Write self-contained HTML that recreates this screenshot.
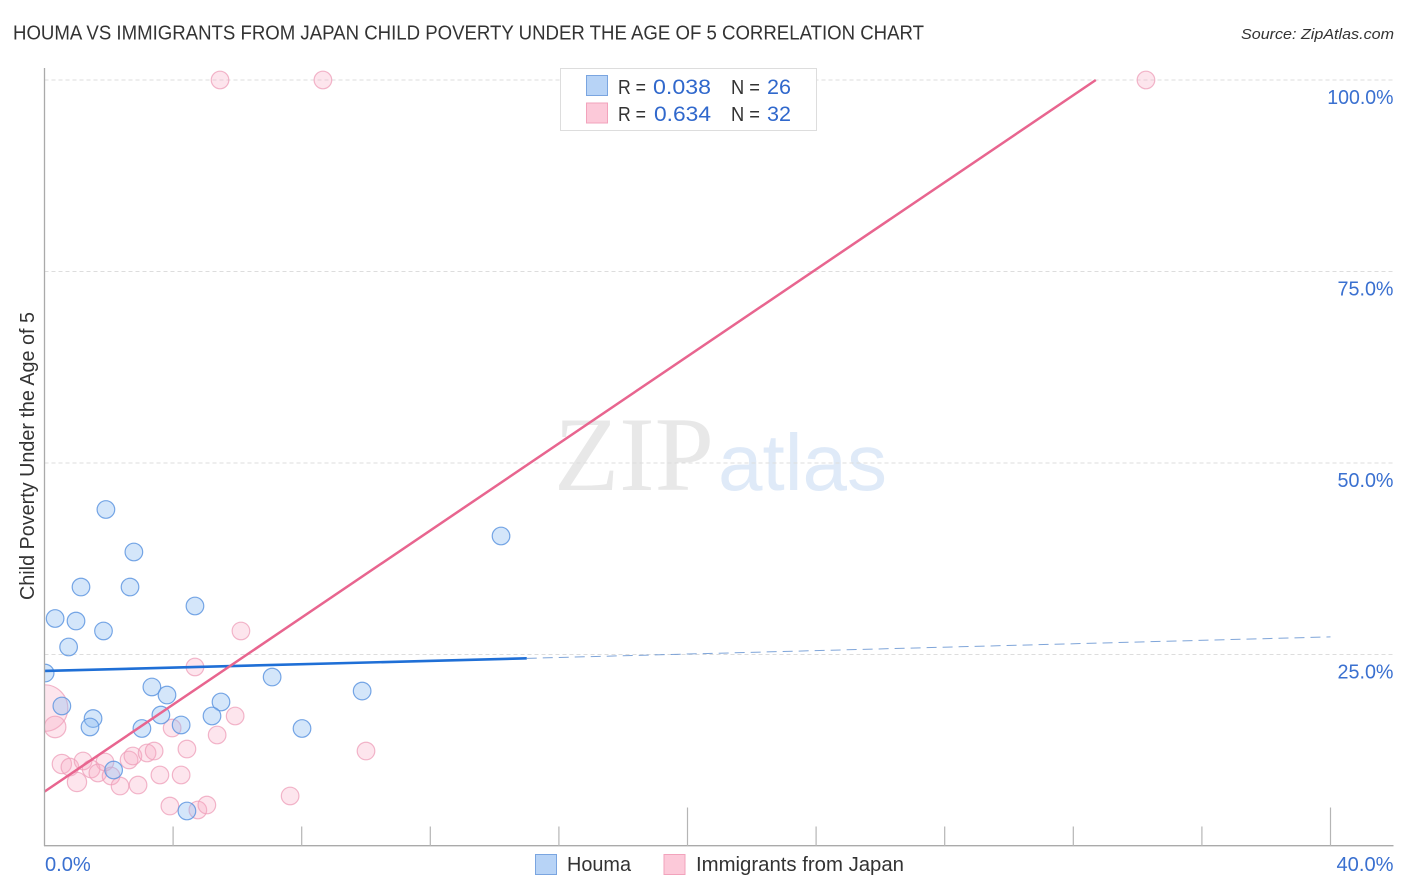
<!DOCTYPE html>
<html lang="en">
<head>
<meta charset="utf-8">
<title>Houma vs Immigrants from Japan Child Poverty Chart</title>
<style>
html,body{margin:0;padding:0;background:#fff;}
body{width:1406px;height:892px;overflow:hidden;}
svg{display:block;font-family:"Liberation Sans",sans-serif;}
</style>
</head>
<body>
<svg id="chart" width="1406" height="892" viewBox="0 0 1406 892" xmlns="http://www.w3.org/2000/svg">
  <rect x="0" y="0" width="1406" height="892" fill="#ffffff"/>
  <text x="13" y="39.5" font-size="20" fill="#333333" textLength="911" lengthAdjust="spacingAndGlyphs">HOUMA VS IMMIGRANTS FROM JAPAN CHILD POVERTY UNDER THE AGE OF 5 CORRELATION CHART</text>
  <text x="1241" y="39" font-size="15" font-style="italic" fill="#333333" textLength="153" lengthAdjust="spacingAndGlyphs">Source: ZipAtlas.com</text>
  <g>
    <text x="554" y="490" font-family="'Liberation Serif',serif" font-size="106" fill="#e8e8e8" textLength="160" lengthAdjust="spacingAndGlyphs">ZIP</text>
    <text x="718" y="490" font-size="80" fill="#dfeaf8" textLength="169" lengthAdjust="spacingAndGlyphs">atlas</text>
  </g>
  <g id="grid"></g>
  <g id="pink-points"></g>
  <g id="blue-points"></g>
  <g id="trends"></g>
  <g id="axes"></g>
  <text transform="translate(34,456) rotate(-90)" text-anchor="middle" font-size="20" fill="#333333" textLength="288" lengthAdjust="spacingAndGlyphs">Child Poverty Under the Age of 5</text>

  <g>
    <rect x="560.5" y="68.5" width="256" height="62" fill="#ffffff" stroke="#dddddd" stroke-width="1"/>
    <rect x="586.5" y="75.5" width="21" height="20" fill="#b7d3f6" stroke="#7aa5e0" stroke-width="1"/>
    <text x="618" y="94" font-size="20" fill="#333333" textLength="28" lengthAdjust="spacingAndGlyphs">R =</text>
    <text x="653" y="94" font-size="21" fill="#3068cc" textLength="58" lengthAdjust="spacingAndGlyphs">0.038</text>
    <text x="731" y="94" font-size="20" fill="#333333" textLength="29" lengthAdjust="spacingAndGlyphs">N =</text>
    <text x="767" y="94" font-size="21" fill="#3068cc" textLength="24" lengthAdjust="spacingAndGlyphs">26</text>
    <rect x="586.5" y="103" width="21" height="20" fill="#fcc9d9" stroke="#f2a3bc" stroke-width="1"/>
    <text x="618" y="121" font-size="20" fill="#333333" textLength="28" lengthAdjust="spacingAndGlyphs">R =</text>
    <text x="654" y="121" font-size="21" fill="#3068cc" textLength="57" lengthAdjust="spacingAndGlyphs">0.634</text>
    <text x="731" y="121" font-size="20" fill="#333333" textLength="29" lengthAdjust="spacingAndGlyphs">N =</text>
    <text x="767" y="121" font-size="21" fill="#3068cc" textLength="24" lengthAdjust="spacingAndGlyphs">32</text>
  </g>

  <g>
    <rect x="535.5" y="854.5" width="21" height="20" fill="#b7d3f6" stroke="#7aa5e0" stroke-width="1"/>
    <text x="567" y="871" font-size="20" fill="#333333" textLength="64" lengthAdjust="spacingAndGlyphs">Houma</text>
    <rect x="664" y="854.5" width="21" height="20" fill="#fcc9d9" stroke="#f2a3bc" stroke-width="1"/>
    <text x="696" y="871" font-size="20" fill="#333333" textLength="208" lengthAdjust="spacingAndGlyphs">Immigrants from Japan</text>
  </g>
</svg>
<script>
// Chart data (percent values)
const yTickValues = [100, 75, 50, 25];
const yTickLabels = ["100.0%", "75.0%", "50.0%", "25.0%"];
const xTickValues = [4, 8, 12, 16, 20, 24, 28, 32, 36, 40];
const xMajorTicks = [20, 40];
const xEndValues = [0, 40];
const xEndLabels = ["0.0%", "40.0%"];

const houmaX = [1.91, 2.78, 1.135, 2.66, 4.68, 0.33, 0.98, 1.835, 0.75, 0.02, 7.08, 3.34, 3.81, 9.88, 5.49, 0.54, 1.51, 1.415, 3.62, 5.21, 4.25, 3.03, 8.01, 2.15, 4.43, 14.20];
const houmaY = [43.93, 38.38, 33.81, 33.81, 31.33, 29.70, 29.37, 28.07, 25.98, 22.58, 22.06, 20.76, 19.71, 20.23, 18.80, 18.28, 16.64, 15.54, 17.10, 16.97, 15.80, 15.34, 15.34, 9.92, 4.57, 40.47];

const japanX = [5.46, 8.66, 34.26, 6.11, 4.68, 5.93, 3.97, 5.37, 4.43, 10.0, 0.0, 0.33, 0.54, 0.79, 1.2, 1.01, 1.88, 1.45, 1.66, 2.07, 2.35, 2.91, 2.63, 2.75, 3.19, 3.41, 3.59, 4.25, 3.90, 4.77, 5.05, 7.64];
const japanY = [100, 100, 100, 28.07, 23.37, 16.97, 15.40, 14.49, 12.66, 12.40, 18.0, 15.54, 10.70, 10.31, 11.10, 8.36, 10.97, 10.05, 9.53, 9.14, 7.83, 7.96, 11.23, 11.75, 12.14, 12.40, 9.27, 9.27, 5.22, 4.70, 5.35, 6.53];
const japanWeight = [1, 1, 1, 1, 1, 1, 1, 1, 1, 1, 7, 1.5, 1.2, 1, 1, 1.2, 1, 1, 1, 1, 1, 1, 1, 1, 1, 1, 1, 1, 1, 1, 1, 1];

const houmaTrendX = [0, 15, 40];
const houmaTrendY = [22.85, 24.5, 27.3];
const japanTrendX = [0, 32.7];
const japanTrendY = [7.1, 100];

// Axis functions
function xScale(v) { return 44.5 + v * 32.15; }
function yScale(v) { return 846 - v * 7.66; }
function rScale(w) { return 8.8 * Math.sqrt(w); }
function labelWidth(s) { return s.length * 11.2 - (s.length === 6 ? 1 : 0); }

const NS = "http://www.w3.org/2000/svg";
function make(tag, attrs, parent) {
  const el = document.createElementNS(NS, tag);
  for (const k in attrs) el.setAttribute(k, attrs[k]);
  parent.appendChild(el);
  return el;
}

const grid = document.getElementById("grid");
const axes = document.getElementById("axes");
const trends = document.getElementById("trends");
const bluePts = document.getElementById("blue-points");
const pinkPts = document.getElementById("pink-points");

// clip so points stop at the y axis
const defs = make("defs", {}, document.getElementById("chart"));
const clip = make("clipPath", { id: "plot-clip" }, defs);
make("rect", { x: 44.5, y: 60, width: 1349, height: 786 }, clip);
bluePts.setAttribute("clip-path", "url(#plot-clip)");
pinkPts.setAttribute("clip-path", "url(#plot-clip)");

yTickValues.forEach(function (v, i) {
  const line = make("line", { x1: 44.5, x2: 1393, y1: yScale(v), y2: yScale(v), stroke: "#dddddd", "stroke-width": 1, "stroke-dasharray": "4 3" }, grid);
  
  
  const label = make("text", { x: 1393.5, y: yScale(v) + 24, "text-anchor": "end", "font-size": 20, fill: "#3a70d0", textLength: labelWidth(yTickLabels[i]), lengthAdjust: "spacingAndGlyphs" }, axes);
  label.textContent = yTickLabels[i];
  
  
});

const yAxis = make("line", { x1: 44.5, x2: 44.5, y1: 68, y2: 846, stroke: "#aaaaaa", "stroke-width": 1.3 }, axes);


const xAxis = make("line", { x1: 44, x2: 1393.5, y1: 845.7, y2: 845.7, stroke: "#aaaaaa", "stroke-width": 1.3 }, axes);



xTickValues.forEach(function (v) {
  const top = xMajorTicks.indexOf(v) >= 0 ? 807.5 : 826.5;
  const tick = make("line", { x1: xScale(v), x2: xScale(v), y1: top, y2: 846, stroke: "#b5b5b5", "stroke-width": 1.2 }, axes);
  
  
});

xEndValues.forEach(function (v, i) {
  const isLast = i === xEndValues.length - 1;
  const label = make("text", { x: isLast ? 1393.5 : xScale(v) + 0.5, y: 871, "text-anchor": isLast ? "end" : "start", "font-size": 20, fill: "#3a70d0", textLength: labelWidth(xEndLabels[i]) + 1, lengthAdjust: "spacingAndGlyphs" }, axes);
  label.textContent = xEndLabels[i];
  
  
});

japanX.forEach(function (v, i) {
  const c = make("circle", { cx: xScale(v), cy: yScale(japanY[i]), r: rScale(japanWeight[i]), fill: "#f8a8c2", "fill-opacity": 0.3, stroke: "#ee9db8", "stroke-opacity": 0.75, "stroke-width": 1.2 }, pinkPts);
  
  
});

houmaX.forEach(function (v, i) {
  const c = make("circle", { cx: xScale(v), cy: yScale(houmaY[i]), r: 8.8, fill: "#8fbcf2", "fill-opacity": 0.38, stroke: "#5f96e0", "stroke-opacity": 0.85, "stroke-width": 1.2 }, bluePts);
  
  
});

const houmaSolid = make("line", { x1: xScale(houmaTrendX[0]), y1: yScale(houmaTrendY[0]), x2: xScale(houmaTrendX[1]), y2: yScale(houmaTrendY[1]), stroke: "#1f6fd6", "stroke-width": 2.6 }, trends);


const houmaDash = make("line", { x1: xScale(houmaTrendX[1]), y1: yScale(houmaTrendY[1]), x2: xScale(houmaTrendX[2]), y2: yScale(houmaTrendY[2]), stroke: "#5f8fd0", "stroke-opacity": 0.8, "stroke-width": 1, "stroke-dasharray": "10 6" }, trends);


const japanLine = make("line", { x1: xScale(japanTrendX[0]), y1: yScale(japanTrendY[0]), x2: xScale(japanTrendX[1]), y2: yScale(japanTrendY[1]), stroke: "#e8658f", "stroke-width": 2.5 }, trends);


</script>
</body>
</html>
